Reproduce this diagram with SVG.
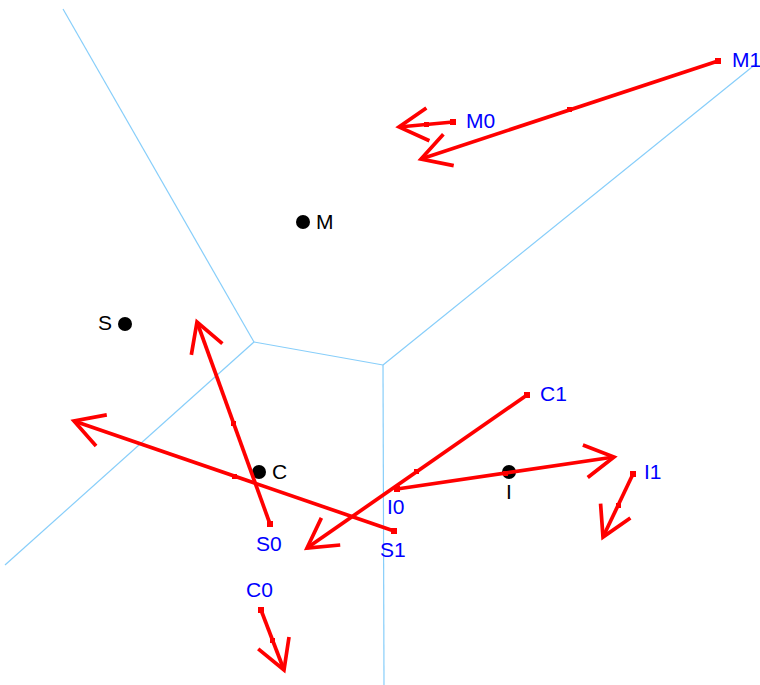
<svg xmlns="http://www.w3.org/2000/svg" width="760" height="685" viewBox="0 0 760 685">
  <style>
    .cell { stroke: #87cefa; stroke-width: 1.2; fill: none; }
    .site { fill: #000; }
    .site-label { font-family: "Liberation Sans", Arial, sans-serif; font-size: 21px; fill: #000; }
    .vec-label { font-family: "Liberation Sans", Arial, sans-serif; font-size: 21px; fill: #0000ff; }
    .vec { stroke: #ff0000; stroke-width: 3.7; fill: none; marker-end: url(#head); }
    .tick { fill: #ff0000; }
  </style>
  <defs>
    <marker id="head" markerUnits="userSpaceOnUse" orient="auto" markerWidth="40" markerHeight="40" viewBox="-34 -20 40 40" refX="0" refY="0" overflow="visible">
      <path d="M -29 -16.5 L 0 0 L -29 16.5" fill="none" stroke="#ff0000" stroke-width="3.7" stroke-linejoin="miter"/>
    </marker>
  </defs>

  <rect width="760" height="685" fill="#ffffff"/>

  <!-- Voronoi cell boundaries -->
  <g id="cells">
    <line class="cell" x1="63" y1="9" x2="254" y2="342"/>
    <line class="cell" x1="254" y1="342" x2="383" y2="365"/>
    <line class="cell" x1="254" y1="342" x2="5" y2="565"/>
    <line class="cell" x1="383" y1="365" x2="757" y2="63"/>
    <line class="cell" x1="383" y1="365" x2="384" y2="685"/>
  </g>

  <!-- sites -->
  <g id="site-M"><circle class="site" cx="303" cy="222" r="7"/><text class="site-label" x="316" y="229">M</text></g>
  <g id="site-S"><circle class="site" cx="125" cy="324" r="7"/><text class="site-label" x="112" y="330" text-anchor="end">S</text></g>
  <g id="site-C"><circle class="site" cx="259" cy="472" r="7"/><text class="site-label" x="272" y="479">C</text></g>
  <g id="site-I"><circle class="site" cx="509" cy="472" r="7"/><text class="site-label" x="509" y="499" text-anchor="middle">I</text></g>

  <!-- displacement vectors -->
  <g id="vectors">
    <g id="vec-M1">
      <line class="vec" x1="718" y1="61" x2="421" y2="159"/>
      <rect class="tick" x="715" y="58" width="6" height="6"/>
      <rect class="tick" x="567" y="107" width="5" height="5"/>
    </g>
    <g id="vec-M0">
      <line class="vec" x1="453" y1="122" x2="399" y2="127"/>
      <rect class="tick" x="450" y="119" width="6" height="6"/>
      <rect class="tick" x="424" y="122" width="5" height="5"/>
    </g>
    <g id="vec-S0">
      <line class="vec" x1="270" y1="524" x2="197" y2="322"/>
      <rect class="tick" x="267" y="521" width="6" height="6"/>
      <rect class="tick" x="231" y="421" width="5" height="5"/>
    </g>
    <g id="vec-S1">
      <line class="vec" x1="394" y1="531" x2="74" y2="421"/>
      <rect class="tick" x="391" y="528" width="6" height="6"/>
      <rect class="tick" x="232" y="474" width="5" height="5"/>
    </g>
    <g id="vec-C1">
      <line class="vec" x1="527" y1="395" x2="307" y2="548"/>
      <rect class="tick" x="524" y="392" width="6" height="6"/>
      <rect class="tick" x="414" y="469" width="5" height="5"/>
    </g>
    <g id="vec-I0">
      <line class="vec" x1="397" y1="489" x2="614" y2="457"/>
      <rect class="tick" x="394" y="486" width="6" height="6"/>
      <rect class="tick" x="503" y="471" width="5" height="5"/>
    </g>
    <g id="vec-I1">
      <line class="vec" x1="633" y1="474" x2="603" y2="537"/>
      <rect class="tick" x="630" y="471" width="6" height="6"/>
      <rect class="tick" x="616" y="503" width="5" height="5"/>
    </g>
    <g id="vec-C0">
      <line class="vec" x1="261" y1="610" x2="284" y2="670"/>
      <rect class="tick" x="258" y="607" width="6" height="6"/>
      <rect class="tick" x="270" y="638" width="5" height="5"/>
    </g>
  </g>

  <!-- vector labels -->
  <g id="labels">
    <text class="vec-label" x="732" y="67">M1</text>
    <text class="vec-label" x="466" y="128">M0</text>
    <text class="vec-label" x="256" y="551">S0</text>
    <text class="vec-label" x="380" y="557">S1</text>
    <text class="vec-label" x="540" y="401">C1</text>
    <text class="vec-label" x="387" y="514">I0</text>
    <text class="vec-label" x="644" y="479">I1</text>
    <text class="vec-label" x="246" y="597">C0</text>
  </g>
</svg>
